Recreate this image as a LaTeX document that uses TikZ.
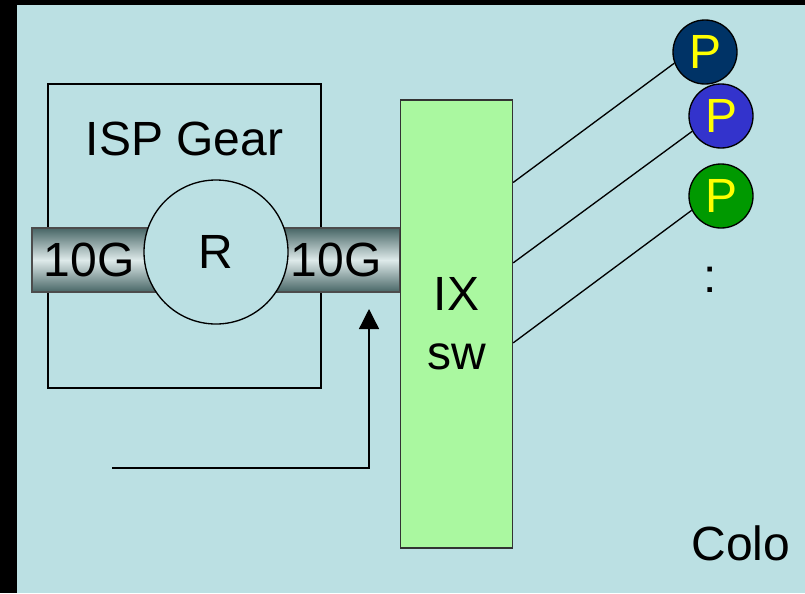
\documentclass[tikz,border=0pt]{standalone}
\usepackage{fontspec}
\setmainfont{Liberation Sans}
\usepackage{tikz}
\usetikzlibrary{arrows.meta,positioning,calc}
\definecolor{colobg}{RGB}{187,224,227}
\definecolor{ixfill}{RGB}{170,248,160}
\definecolor{pipedark}{RGB}{72,102,102}
\definecolor{pipelight}{RGB}{222,234,234}
\definecolor{peerone}{RGB}{0,51,102}
\definecolor{peertwo}{RGB}{51,51,204}
\definecolor{peerthree}{RGB}{0,153,0}
\definecolor{peertext}{RGB}{255,255,0}
\tikzset{
  bigtext/.style={
    font=\fontsize{36}{44}\selectfont,
    inner sep=0pt
  },
  gearbox/.style={
    draw=black,
    line width=1pt,
    minimum width=204.75pt,
    minimum height=228pt,
    inner sep=0pt
  },
  pipe/.style={
    draw=black!70,
    line width=1pt,
    top color=pipedark,
    bottom color=pipedark,
    middle color=pipelight,
    minimum width=276pt,
    minimum height=48pt,
    inner sep=0pt
  },
  router/.style={
    circle,
    draw=black,
    line width=1pt,
    fill=colobg,
    minimum size=108pt,
    bigtext
  },
  switch/.style={
    draw=black!80,
    line width=1pt,
    fill=ixfill,
    minimum width=84pt,
    minimum height=336pt,
    align=center,
    bigtext
  },
  peer/.style={
    circle,
    draw=black,
    line width=1pt,
    minimum size=48pt,
    text=peertext,
    bigtext
  },
  link/.style={line width=1pt},
  arrow/.style={-{Triangle[length=15pt,width=15pt]}, line width=1pt}
}
\begin{document}
\begin{tikzpicture}[x=0.75pt, y=-0.75pt]
  \useasboundingbox (0,0) rectangle (805,593);
  \fill[black] (0,0) rectangle (805,593);
  \fill[colobg] (17,5) rectangle (805,593);

  \node[gearbox] (isp) at (184.5,236) {};
  \node[bigtext, below=28.5pt of isp.north] (ispl) {ISP Gear};
  \node[pipe] (pipe) at (216,260) {};
  \node[router] (rtr) at (216,252) {R};
  \node[bigtext] (tenl) at (89,260) {10G};
  \node[bigtext] (tenr) at (336,260) {10G};

  \node[switch] (ix) at (456.5,324) {IX\\sw};

  \node[peer, fill=peerone] (pa) at (705,52) {P};
  \node[peer, fill=peertwo] (pb) at (721,116) {P};
  \node[peer, fill=peerthree] (pc) at (721,196) {P};
  \node[bigtext] (more) at (710,280) {:};

  \draw[link] ($(ix.north east)!0.185!(ix.south east)$) -- (pa.200);
  \draw[link] ($(ix.north east)!0.364!(ix.south east)$) -- (pb.208);
  \draw[link] ($(ix.north east)!0.542!(ix.south east)$) -- (pc.206);

  \coordinate (feed) at (112,468);
  \coordinate (tip) at (369,309);
  \draw[arrow] (feed) -| (tip);

  \node[bigtext] (colo) at (741,543) {Colo};
\end{tikzpicture}
\end{document}
